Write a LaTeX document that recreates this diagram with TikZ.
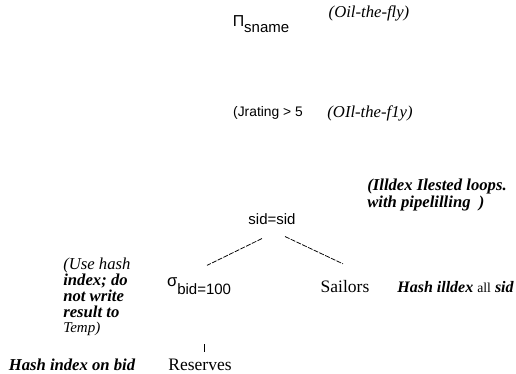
\documentclass[tikz,border=0pt]{standalone}
\usepackage{fontspec}
\setmainfont{Liberation Serif}
\setsansfont{Liberation Sans}
\usetikzlibrary{positioning, calc}

\begin{document}
\begin{tikzpicture}[x=0.6pt, y=-0.6pt,
  op/.style={font=\sffamily\fontsize{9}{10}\selectfont, inner sep=1pt},
  rel/.style={font=\rmfamily\fontsize{10.5}{12}\selectfont, inner sep=1pt},
  note/.style={font=\itshape\fontsize{10}{9.5}\selectfont, inner sep=0pt},
  treeedge/.style={dash pattern=on 3pt off 0.8pt, line width=0.45pt}]
\useasboundingbox (0,0) rectangle (516,373);

\node[op] (proj) at (261,24) {{\fontsize{9.5}{10}\selectfont Π}\raisebox{-4pt}{sname}};
\node[note] (projnote) at (369,13) {(Oil-the-fly)};

\node[op, font=\sffamily\fontsize{8.3}{10}\selectfont] (sel2) at (268,113) {(Jrating > 5};
\node[note] (sel2note) at (370,113) {(OIl-the-f1y)};

\node[op] (join) at (272,219) {sid=sid};
\node[note, anchor=west, align=left] (joinnote) at (367,195) {\textbf{(Illdex Ilested loops.}\\[1pt]\textbf{with pipelilling\ \ )}};

\node[op, anchor=west] (sel) at (165,286) {{\fontsize{10}{10}\selectfont σ}\raisebox{-5pt}{bid=100}};
\node[note, anchor=west, align=left] (selnote) at (63,297) {(Use hash\\\textbf{index; do}\\\textbf{not write}\\\textbf{result to}\\{\fontsize{9}{9.5}\selectfont Temp)}};

\node[rel] (sailors) at (345,287) {Sailors};
\node[note, anchor=west, font=\itshape\fontsize{9.6}{10}\selectfont] (sailnote) at (397,287) {\textbf{Hash illdex} {\upshape\fontsize{8.2}{9}\selectfont all} \textbf{sid}};

\node[rel] (res) at (200,365) {Reserves};
\node[note] (resnote) at (72,365) {\textbf{Hash index on bid}};

\draw[treeedge] ([shift={(-10,12)}]join.south) -- ([shift={(8,-10)}]sel.north);
\draw[treeedge] ([shift={(13,10)}]join.south) -- ([shift={(-2,-15)}]sailors.north);
\draw[line width=0.5pt] ([shift={(4,-13)}]res.north) -- ([shift={(4,-5)}]res.north);
\end{tikzpicture}
\end{document}
